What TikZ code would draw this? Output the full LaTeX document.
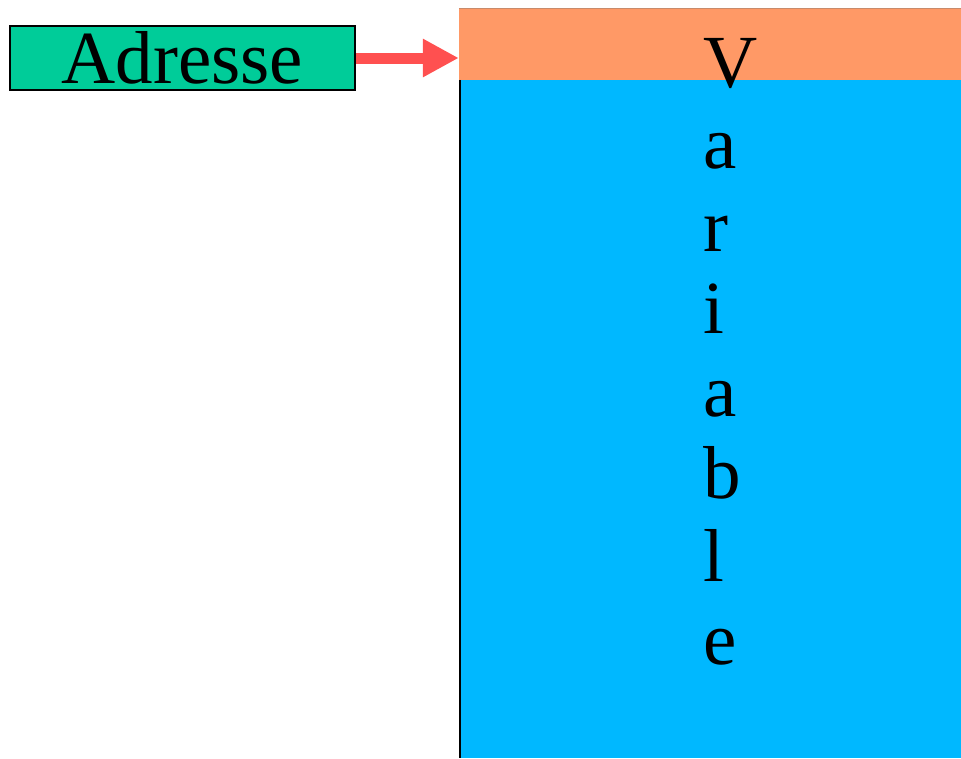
\documentclass[tikz,border=0pt]{standalone}
\usepackage{fontspec}
\setmainfont{Liberation Serif}
\usetikzlibrary{arrows.meta}
\definecolor{addrgreen}{HTML}{00CC99}
\definecolor{headorange}{HTML}{FF9966}
\definecolor{topline}{HTML}{C88A6A}
\definecolor{bodyblue}{HTML}{00B8FF}
\definecolor{arrowred}{HTML}{FF5050}
\tikzset{
  bigtext/.style={font=\fontsize{75}{82.5}\selectfont, text=black},
  letter/.style={bigtext, anchor=base west, inner sep=0pt},
  addrbox/.style={draw=black, line width=1.5pt, fill=addrgreen, inner sep=0pt,
    minimum width=345pt, minimum height=64pt, bigtext},
  fillbox/.style={draw=none, inner sep=0pt},
  pointer/.style={draw=arrowred, line width=11pt,
    -{Triangle[length=36pt,width=36pt,fill=arrowred]}}
}
\begin{document}
\begin{tikzpicture}[x=1pt,y=-1pt]
\useasboundingbox (0,0) rectangle (961,758);
\fill[white] (0,0) rectangle (961,758);
% variable body
\node[fillbox, fill=bodyblue, minimum width=502pt, minimum height=678pt] (body) at (710,419) {};
\node[fillbox, fill=headorange, minimum width=502pt, minimum height=71pt] (head) at (710,44.5) {};
\draw[topline, line width=1pt] (head.north west) -- (head.north east);
\draw[black, line width=2.5pt] ([xshift=1.25pt]body.north west) -- ([xshift=1.25pt]body.south west);
% address box
\node[addrbox] (adr) at (182.5,58) {\raisebox{-3pt}{Adresse}};
% arrow
\coordinate (tip) at (adr.east -| head.west);
\draw[pointer] (adr.east) -- (tip);
% letters
\node[letter] (l1) at (703,87) {V};
\node[letter] (l2) at (703,168.5) {a};
\node[letter] (l3) at (703,251) {r};
\node[letter] (l4) at (703,333.5) {i};
\node[letter] (l5) at (703,416) {a};
\node[letter] (l6) at (703,498.5) {b};
\node[letter] (l7) at (703,581.5) {l};
\node[letter] (l8) at (703,664.5) {e};
\end{tikzpicture}
\end{document}
